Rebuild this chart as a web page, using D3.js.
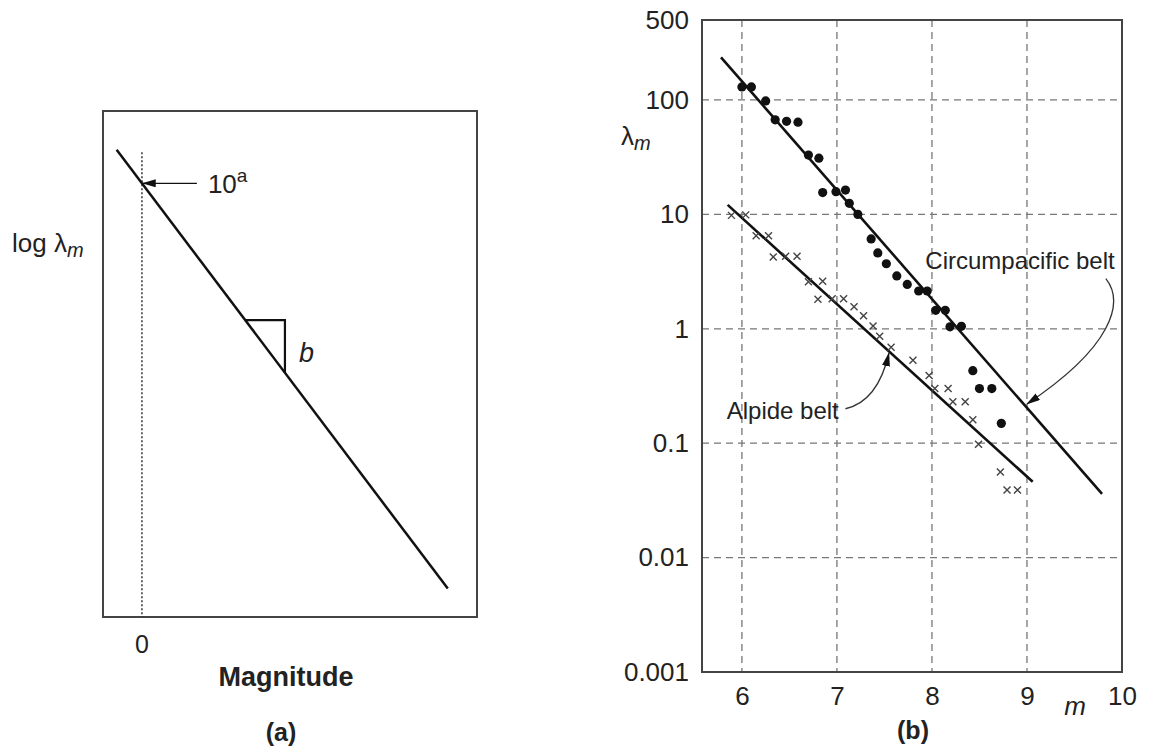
<!DOCTYPE html>
<html>
<head>
<meta charset="utf-8">
<script src="https://cdn.jsdelivr.net/npm/d3@7"></script>
<style>
  body { margin: 0; background: #fff; }
  text { font-family: "Liberation Sans", Arial, Helvetica, sans-serif; fill: #222; }
</style>
</head>
<body>
<div id="chart"></div>
<script>
// ---- Panel (a): schematic Gutenberg-Richter line ----
const A_VALUE = 3;          // log lambda at m = 0
const B_VALUE = 1;          // slope
const aLineM = [-0.65, 7.85];
const aTriangleM = [2.65, 3.67];
const aArrowM = [1.41, 0.02];
const aDottedTop = 3.6;

// ---- Panel (b): observed rates ----
const circM = [6.0, 6.1, 6.25, 6.35, 6.47, 6.59, 6.7, 6.81, 6.85, 6.99, 7.09, 7.13, 7.22,
  7.36, 7.43, 7.52, 7.63, 7.74, 7.86, 7.95, 8.04, 8.14, 8.19, 8.31, 8.43, 8.5, 8.63, 8.73];
const circL = [130, 130, 98, 67, 65, 64, 33, 31, 15.5, 15.8, 16.3, 12.5, 10,
  6.1, 4.6, 3.7, 2.9, 2.44, 2.14, 2.14, 1.45, 1.45, 1.04, 1.05, 0.43, 0.30, 0.30, 0.149];

const alpM = [5.89, 6.04, 6.15, 6.28, 6.33, 6.46, 6.58, 6.7, 6.85, 6.8, 6.95, 7.07, 7.18,
  7.28, 7.38, 7.45, 7.57, 7.8, 7.97, 8.03, 8.17, 8.22, 8.35, 8.43, 8.49, 8.72, 8.79, 8.9];
const alpL = [9.8, 9.9, 6.5, 6.5, 4.25, 4.3, 4.3, 2.58, 2.6, 1.81, 1.83, 1.83, 1.56,
  1.30, 1.06, 0.86, 0.69, 0.53, 0.39, 0.30, 0.30, 0.23, 0.23, 0.16, 0.098, 0.056, 0.039, 0.039];

const circLineM = [5.78, 9.79];
const circLineL = [236, 0.036];
const alpLineM = [5.85, 9.06];
const alpLineL = [12.1, 0.046];

const xTicks = [6, 7, 8, 9, 10];
const yTicks = [0.001, 0.01, 0.1, 1, 10, 100, 500];
const yTickLabels = ["0.001", "0.01", "0.1", "1", "10", "100", "500"];
const xGrid = [6, 7, 8, 9];
const yGrid = [0.01, 0.1, 1, 10, 100];

// annotation anchors (data units)
const circLabel = [7.93, 3.3];
const circArrow = [[9.83, 2.74], [10.03, 1.69], [9.895, 0.69], [9.0, 0.22]];
const alpLabel = [5.84, 0.164];
const alpArrow = [[7.09, 0.2], [7.43, 0.232], [7.547, 0.611]];

const svg = d3.select("#chart").append("svg")
  .attr("width", 1160).attr("height", 754);

// arrowhead marker
svg.append("defs").append("marker")
  .attr("id", "head")
  .attr("markerUnits", "userSpaceOnUse")
  .attr("viewBox", "0 0 14 8")
  .attr("markerWidth", 14).attr("markerHeight", 8)
  .attr("refX", 13).attr("refY", 4)
  .attr("orient", "auto")
  .append("path").attr("d", "M0,0 L14,4 L0,8 Z").attr("fill", "#111");

// ================= Panel (a) =================
const xa = d3.scaleLinear().domain([-1, 8.6]).range([103, 477]);
const ya = d3.scaleLinear().domain([-5.4, 4.4]).range([617, 111]);
const ga = svg.append("g");

ga.append("rect")
  .attr("x", xa.range()[0]).attr("y", ya.range()[1])
  .attr("width", xa.range()[1] - xa.range()[0])
  .attr("height", ya.range()[0] - ya.range()[1])
  .attr("fill", "none").attr("stroke", "#444").attr("stroke-width", 2);

ga.append("line")
  .attr("x1", xa(0)).attr("x2", xa(0))
  .attr("y1", ya(aDottedTop)).attr("y2", ya.range()[0])
  .attr("stroke", "#333").attr("stroke-width", 1.5)
  .attr("stroke-dasharray", "2,2");

const aLine = d3.line().x(d => xa(d)).y(d => ya(A_VALUE - B_VALUE * d));
ga.append("path").attr("d", aLine(aLineM))
  .attr("fill", "none").attr("stroke", "#111").attr("stroke-width", 2.5);

// slope triangle
const t0 = aTriangleM[0], t1 = aTriangleM[1];
ga.append("path")
  .attr("d", d3.line()([
    [xa(t0), ya(A_VALUE - B_VALUE * t0)],
    [xa(t1), ya(A_VALUE - B_VALUE * t0)],
    [xa(t1), ya(A_VALUE - B_VALUE * t1)]
  ]))
  .attr("fill", "none").attr("stroke", "#111").attr("stroke-width", 2.2);

ga.append("text")
  .attr("x", xa(t1) + 14).attr("y", ya(A_VALUE - B_VALUE * (t0 + t1) / 2) + 16)
  .attr("font-size", 27).attr("font-style", "italic").text("b");

// 10^a arrow
ga.append("line")
  .attr("x1", xa(aArrowM[0])).attr("x2", xa(aArrowM[1]))
  .attr("y1", ya(A_VALUE)).attr("y2", ya(A_VALUE))
  .attr("stroke", "#111").attr("stroke-width", 1.3)
  .attr("marker-end", "url(#head)");

const tenA = ga.append("text")
  .attr("x", xa(aArrowM[0]) + 11).attr("y", ya(A_VALUE) + 10)
  .attr("font-size", 26);
tenA.append("tspan").text("10");
tenA.append("tspan").attr("dy", -11).attr("font-size", 19).text("a");

const logLab = ga.append("text").attr("x", 12).attr("y", 252).attr("font-size", 26);
logLab.append("tspan").text("log λ");
logLab.append("tspan").attr("dy", 5).attr("font-size", 20).attr("font-style", "italic").text("m");

ga.append("text").attr("x", xa(0)).attr("y", 653)
  .attr("text-anchor", "middle").attr("font-size", 25).text("0");
ga.append("text").attr("x", 286).attr("y", 686)
  .attr("text-anchor", "middle").attr("font-size", 27).attr("font-weight", "bold")
  .text("Magnitude");
ga.append("text").attr("x", 281).attr("y", 741)
  .attr("text-anchor", "middle").attr("font-size", 25).attr("font-weight", "bold")
  .text("(a)");

// ================= Panel (b) =================
const x = d3.scaleLinear().domain([5.58, 10]).range([702, 1122]);
const y = d3.scaleLog().domain([0.001, 500]).range([672, 20]);
const gb = svg.append("g");

// grid
gb.append("g").selectAll("line").data(xGrid).join("line")
  .attr("x1", d => x(d)).attr("x2", d => x(d))
  .attr("y1", y.range()[1]).attr("y2", y.range()[0])
  .attr("stroke", "#777").attr("stroke-width", 1.3).attr("stroke-dasharray", "7,5");
gb.append("g").selectAll("line").data(yGrid).join("line")
  .attr("y1", d => y(d)).attr("y2", d => y(d))
  .attr("x1", x.range()[0]).attr("x2", x.range()[1])
  .attr("stroke", "#777").attr("stroke-width", 1.3).attr("stroke-dasharray", "7,5");

// frame
gb.append("rect")
  .attr("x", x.range()[0]).attr("y", y.range()[1])
  .attr("width", x.range()[1] - x.range()[0])
  .attr("height", y.range()[0] - y.range()[1])
  .attr("fill", "none").attr("stroke", "#444").attr("stroke-width", 2);

// axes (labels only)
const yAxis = d3.axisLeft(y).tickValues(yTicks).tickSize(0).tickPadding(13)
  .tickFormat((d, i) => yTickLabels[i]);
gb.append("g").attr("transform", `translate(${x.range()[0]},0)`).call(yAxis)
  .call(g => g.select(".domain").remove())
  .call(g => g.selectAll("text").attr("font-size", 26).attr("fill", "#222")
    .attr("font-family", "Liberation Sans, Arial, sans-serif"));

const xAxis = d3.axisBottom(x).tickValues(xTicks).tickSize(0).tickPadding(15)
  .tickFormat(d3.format("d"));
gb.append("g").attr("transform", `translate(0,${y.range()[0]})`).call(xAxis)
  .call(g => g.select(".domain").remove())
  .call(g => g.selectAll("text").attr("font-size", 26).attr("fill", "#222")
    .attr("font-family", "Liberation Sans, Arial, sans-serif"));

gb.append("text").attr("x", 1075).attr("y", 715).attr("text-anchor", "middle")
  .attr("font-size", 26).attr("font-style", "italic").text("m");

const lamLab = gb.append("text").attr("x", 621).attr("y", 145).attr("font-size", 26);
lamLab.append("tspan").text("λ");
lamLab.append("tspan").attr("dy", 5).attr("font-size", 20).attr("font-style", "italic").text("m");

gb.append("text").attr("x", 913).attr("y", 739).attr("text-anchor", "middle")
  .attr("font-size", 25).attr("font-weight", "bold").text("(b)");

// fitted lines
const fit = d3.line().x(d => x(d[0])).y(d => y(d[1]));
gb.append("path").attr("d", fit(d3.zip(circLineM, circLineL)))
  .attr("fill", "none").attr("stroke", "#111").attr("stroke-width", 2.6);
gb.append("path").attr("d", fit(d3.zip(alpLineM, alpLineL)))
  .attr("fill", "none").attr("stroke", "#111").attr("stroke-width", 2.6);

// circumpacific dots
gb.append("g").selectAll("circle").data(d3.zip(circM, circL)).join("circle")
  .attr("cx", d => x(d[0])).attr("cy", d => y(d[1]))
  .attr("r", 4.6).attr("fill", "#111");

// alpide crosses
const crossType = {
  draw(ctx, size) {
    const r = Math.sqrt(size) / 2;
    ctx.moveTo(-r, -r); ctx.lineTo(r, r);
    ctx.moveTo(r, -r); ctx.lineTo(-r, r);
  }
};
gb.append("g").selectAll("path").data(d3.zip(alpM, alpL)).join("path")
  .attr("transform", d => `translate(${x(d[0])},${y(d[1])})`)
  .attr("d", d3.symbol().type(crossType).size(49))
  .attr("fill", "none").attr("stroke", "#444").attr("stroke-width", 1.4);

// annotations
gb.append("text").attr("x", x(circLabel[0])).attr("y", y(circLabel[1]))
  .attr("font-size", 24).text("Circumpacific belt");
gb.append("text").attr("x", x(alpLabel[0])).attr("y", y(alpLabel[1]))
  .attr("font-size", 24).text("Alpide belt");

const cp = circArrow.map(d => [x(d[0]), y(d[1])]);
gb.append("path")
  .attr("d", `M${cp[0]} C${cp[1]} ${cp[2]} ${cp[3]}`)
  .attr("fill", "none").attr("stroke", "#333").attr("stroke-width", 1.3)
  .attr("marker-end", "url(#head)");

const ap = alpArrow.map(d => [x(d[0]), y(d[1])]);
gb.append("path")
  .attr("d", `M${ap[0]} Q${ap[1]} ${ap[2]}`)
  .attr("fill", "none").attr("stroke", "#333").attr("stroke-width", 1.3)
  .attr("marker-end", "url(#head)");
</script>
</body>
</html>
